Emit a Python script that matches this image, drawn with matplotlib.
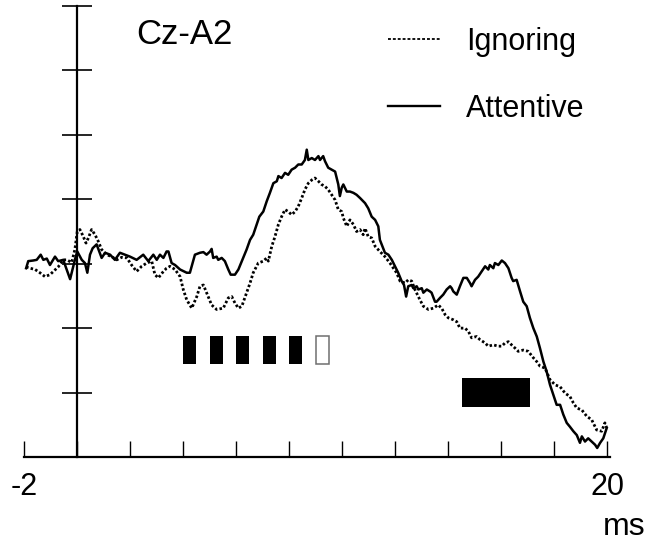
import matplotlib
matplotlib.use("Agg")
import matplotlib.pyplot as plt
from matplotlib.lines import Line2D

plt.rcParams['font.family'] = ['Liberation Sans', 'DejaVu Sans']

# ---- data (ms, arbitrary amplitude units; 1 unit = one y tick) ----
attentive_t = [-1.92, -1.84, -1.65, -1.52, -1.37, -1.27, -1.14, -1.02, -0.83, -0.71, -0.52, -0.26, -0.08,
               0.01, 0.18, 0.30, 0.39, 0.49, 0.59, 0.74, 0.84, 0.93, 1.06, 1.25, 1.43, 1.62, 1.81, 2.00,
               2.25, 2.50, 2.69, 2.88, 3.01, 3.13, 3.26, 3.38, 3.45, 3.57, 3.70, 3.89, 4.14, 4.26, 4.45,
               4.64, 4.77, 4.89, 5.02, 5.08, 5.14, 5.27, 5.33, 5.46, 5.58, 5.71, 5.80, 5.96, 6.09, 6.22,
               6.40, 6.53, 6.65, 6.78, 6.88, 7.03, 7.16, 7.28, 7.41, 7.54, 7.60, 7.72, 7.85, 7.97, 8.10,
               8.23, 8.35, 8.48, 8.60, 8.67, 8.73, 8.86, 8.98, 9.11, 9.17, 9.29, 9.36, 9.48, 9.61, 9.74,
               9.86, 9.92, 9.99, 10.05, 10.18, 10.30, 10.43, 10.55, 10.68, 10.87, 10.99, 11.12, 11.25,
               11.37, 11.43, 11.62, 11.75, 11.88, 12.00, 12.12, 12.25, 12.34, 12.42, 12.50, 12.63, 12.69,
               12.82, 12.88, 13.01, 13.07, 13.20, 13.32, 13.38, 13.51, 13.57, 13.70, 13.82, 13.95, 14.08,
               14.14, 14.20, 14.33, 14.45, 14.58, 14.71, 14.83, 14.89, 15.02, 15.14, 15.27, 15.40, 15.52,
               15.58, 15.71, 15.77, 15.90, 16.03, 16.15, 16.28, 16.40, 16.46, 16.59, 16.72, 16.84, 16.97,
               17.09, 17.22, 17.35, 17.47, 17.60, 17.72, 17.85, 17.97, 18.10, 18.23, 18.35, 18.48, 18.60,
               18.73, 18.86, 18.98, 19.05, 19.17, 19.29, 19.42, 19.55, 19.63, 19.74, 19.86, 19.99]
attentive_v = [-0.07, 0.04, 0.05, 0.06, 0.14, 0.06, 0.08, -0.02, 0.11, 0.04, 0.06, -0.24, 0.06,
               0.19, 0.06, 0.01, -0.14, 0.14, 0.24, 0.30, 0.19, 0.09, 0.17, 0.14, 0.06, 0.17, 0.14, 0.11,
               0.06, 0.14, 0.04, 0.14, 0.06, 0.14, 0.09, 0.19, 0.19, 0.01, -0.02, -0.09, -0.14, -0.14, 0.14,
               0.17, 0.18, 0.14, 0.19, 0.23, 0.09, 0.11, 0.06, 0.09, 0.04, -0.09, -0.17, -0.17, -0.09, 0.04,
               0.22, 0.37, 0.45, 0.61, 0.73, 0.81, 0.97, 1.10, 1.25, 1.28, 1.36, 1.33, 1.41, 1.38, 1.46,
               1.49, 1.54, 1.54, 1.61, 1.77, 1.61, 1.64, 1.61, 1.67, 1.61, 1.67, 1.59, 1.49, 1.46, 1.43,
               1.23, 1.05, 1.18, 1.23, 1.12, 1.12, 1.10, 1.07, 1.02, 0.94, 0.86, 0.73, 0.68,
               0.58, 0.37, 0.17, 0.14, 0.06, -0.04, -0.14, -0.27, -0.33, -0.51, -0.35, -0.33, -0.38,
               -0.35, -0.40, -0.38, -0.45, -0.40, -0.43, -0.45, -0.59, -0.59, -0.53, -0.48, -0.40, -0.35,
               -0.38, -0.43, -0.48, -0.35, -0.22, -0.22, -0.30, -0.35, -0.25, -0.20, -0.12, -0.04, -0.09,
               -0.02, -0.07, 0.01, -0.02, 0.05, 0.01, -0.07, -0.22, -0.27, -0.25, -0.43, -0.59, -0.66,
               -0.84, -1.00, -1.13, -1.31, -1.52, -1.67, -1.88, -2.03, -2.19, -2.19, -2.34, -2.47, -2.53,
               -2.60, -2.66, -2.78, -2.68, -2.76, -2.71, -2.76, -2.81, -2.86, -2.78, -2.71, -2.55]

ignoring_t = [-1.92, -1.77, -1.58, -1.40, -1.21, -1.02, -0.89, -0.71, -0.52, -0.39, -0.20, -0.08, 0.01,
              0.11, 0.24, 0.34, 0.43, 0.55, 0.68, 0.80, 0.93, 1.12, 1.31, 1.50, 1.69, 1.88, 2.06, 2.25,
              2.44, 2.63, 2.82, 2.94, 3.07, 3.26, 3.38, 3.51, 3.70, 3.89, 4.01, 4.14, 4.33, 4.52,
              4.64, 4.77, 4.89, 5.08, 5.27, 5.52, 5.71, 5.84, 5.96, 6.09, 6.22, 6.40, 6.53, 6.65, 6.84,
              7.03, 7.16, 7.22, 7.35, 7.47, 7.60, 7.72, 7.85, 7.97, 8.10, 8.23, 8.35, 8.48, 8.60, 8.73,
              8.86, 8.98, 9.11, 9.23, 9.36, 9.48, 9.61, 9.74, 9.86, 9.99, 10.05, 10.18, 10.30, 10.43,
              10.55, 10.68, 10.80, 10.87, 10.99, 11.12, 11.25, 11.43, 11.62, 11.81, 11.94, 12.06, 12.19,
              12.38, 12.50, 12.63, 12.75, 12.94, 13.07, 13.26, 13.45, 13.63, 13.76, 13.89, 14.01, 14.20,
              14.33, 14.45, 14.64, 14.77, 14.89, 15.08, 15.21, 15.40, 15.52, 15.71, 15.90, 16.03, 16.15,
              16.28, 16.40, 16.53, 16.65, 16.84, 17.03, 17.22, 17.35, 17.47, 17.66, 17.85, 18.04, 18.23,
              18.42, 18.60, 18.73, 18.86, 19.05, 19.24, 19.42, 19.61, 19.80, 19.92, 19.99]
ignoring_v = [-0.05, -0.07, -0.09, -0.14, -0.20, -0.17, -0.12, -0.05, 0.06, 0.06, 0.02, 0.22, 0.50,
              0.53, 0.42, 0.32, 0.40, 0.53, 0.45, 0.35, 0.22, 0.14, 0.11, 0.06, 0.10, 0.09, -0.02, -0.12,
              -0.04, 0.01, 0.04, -0.17, -0.22, -0.12, -0.07, -0.04, -0.09, -0.20, -0.40, -0.56, -0.69, -0.51,
              -0.35, -0.33, -0.45, -0.64, -0.71, -0.69, -0.53, -0.51, -0.61, -0.69, -0.66, -0.45, -0.30, -0.14, 0.01,
              0.04, 0.09, 0.04, 0.27, 0.42, 0.61, 0.73, 0.84, 0.81, 0.76, 0.81, 0.89, 1.02, 1.15, 1.25,
              1.30, 1.33, 1.28, 1.23, 1.20, 1.15, 1.07, 0.99, 0.84, 0.81, 0.71, 0.58, 0.68, 0.61,
              0.50, 0.53, 0.45, 0.55, 0.42, 0.40, 0.27, 0.19, 0.11, 0.01, -0.07, -0.14, -0.27,
              -0.30, -0.25, -0.27, -0.40, -0.56, -0.66, -0.71, -0.69, -0.64, -0.69, -0.79, -0.84, -0.87,
              -0.90, -1.00, -1.00, -1.05, -1.15, -1.13, -1.18, -1.23, -1.28, -1.26, -1.28, -1.28, -1.23,
              -1.21, -1.26, -1.31, -1.36, -1.34, -1.36, -1.46, -1.52, -1.59, -1.62, -1.80, -1.88, -1.91,
              -2.01, -2.06, -2.16, -2.24, -2.27, -2.37, -2.42, -2.58, -2.60, -2.47, -2.55]

# stimulus markers
click_starts = [4, 5, 6, 7, 8]
omitted_start = [9]
click_width = 0.5
click_bottom, click_top = -1.55, -1.12
window_start, window_end = 14.53, 17.09
window_bottom, window_top = -2.22, -1.77

x_ticks = list(range(-2, 21, 2))
x_ticklabels = ['-2'] + [''] * 10 + ['20']
y_ticks = list(range(-3, 5))

# ---- figure ----
W, H = 650, 541
fig = plt.figure(figsize=(W / 100, H / 100), dpi=100)
px_per_ms = 26.5
x0, x1 = -2.0, 20.1
ax = fig.add_axes([24 / W, (H - 457) / H, (x1 - x0) * px_per_ms / W, 451 / H])
ax.set_xlim(x0, x1)
ax.set_ylim(-3, 4)

ax.plot(ignoring_t, ignoring_v, color='black', lw=2.0, linestyle=(0, (0.9, 0.8)),
        dash_capstyle='butt', label='Ignoring')
ax.plot(attentive_t, attentive_v, color='black', lw=1.8, label='Attentive')

ax.bar(click_starts, click_top - click_bottom, bottom=click_bottom, width=click_width,
       align='edge', color='black', linewidth=0)
ax.bar(omitted_start, click_top - click_bottom, bottom=click_bottom, width=click_width,
       align='edge', facecolor='white', edgecolor='#6f6f6f', linewidth=1.1)
ax.bar([window_start], window_top - window_bottom, bottom=window_bottom,
       width=window_end - window_start, align='edge', color='black', linewidth=0)

for s in ['top', 'right']:
    ax.spines[s].set_visible(False)
ax.spines['left'].set_position(('data', 0))
ax.spines['left'].set_linewidth(1.6)
ax.spines['bottom'].set_linewidth(1.6)

ax.set_xticks(x_ticks)
ax.set_xticklabels(x_ticklabels, fontsize=22)
ax.tick_params(axis='x', direction='in', length=11.5, width=1.0, pad=11)
ax.set_yticks(y_ticks)
ax.set_yticklabels([])
ax.tick_params(axis='y', direction='inout', length=21, width=1.2)

fig.text(136 / W, 1 - 44 / H, 'Cz-A2', fontsize=25, ha='left', va='baseline')
fig.text(624 / W, 1 - 535 / H, 'ms', fontsize=23, ha='center', va='baseline')

handles = [Line2D([], [], color='black', lw=1.3, linestyle=(0, (1.6, 1.1))),
           Line2D([], [], color='black', lw=1.7)]
fig.legend(handles, ['Ignoring', 'Attentive'], loc='upper left',
           bbox_to_anchor=(388 / W, 1 - 27 / H), frameon=False, fontsize=22,
           borderpad=0, borderaxespad=0, handlelength=1.7, handletextpad=0.85,
           labelspacing=1.2)

fig.savefig('out.png', dpi=100)
